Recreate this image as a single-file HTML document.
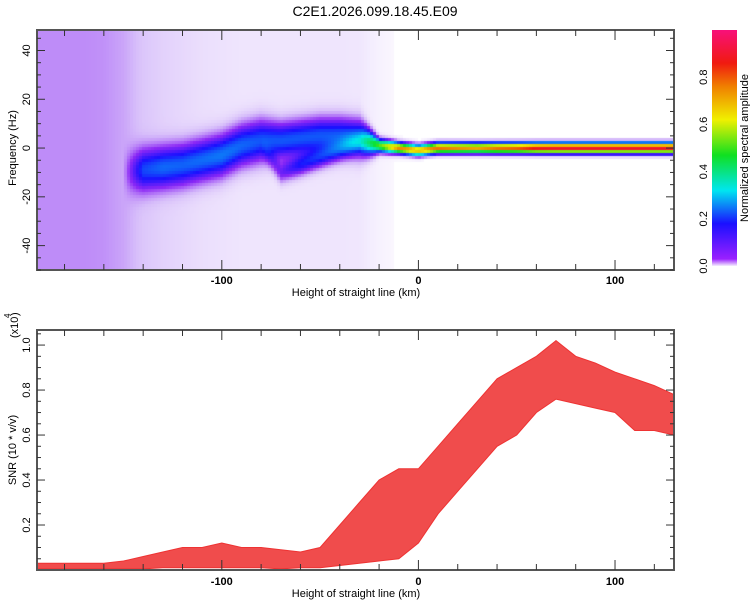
<!DOCTYPE html>
<html><head><meta charset="utf-8"><style>
body{margin:0;background:#fff;width:750px;height:600px;position:relative;overflow:hidden;font-family:"Liberation Sans",sans-serif}
canvas{position:absolute}
svg{position:absolute;left:0;top:0}
</style></head><body>
<canvas id="spec" width="637" height="240" style="left:37px;top:30px"></canvas>
<svg id="svg" width="750" height="600">
<defs><linearGradient id="cb" x1="0" y1="1" x2="0" y2="0">
<stop offset="0" stop-color="#f4eefe"/><stop offset="0.03" stop-color="#9a20ff"/><stop offset="0.18" stop-color="#1a10ff"/><stop offset="0.32" stop-color="#00e6f0"/><stop offset="0.47" stop-color="#10e020"/><stop offset="0.62" stop-color="#f0f000"/><stop offset="0.76" stop-color="#f08000"/><stop offset="0.86" stop-color="#f01a10"/><stop offset="1" stop-color="#f8107a"/></linearGradient></defs>
<text x="375" y="16" font-size="14" text-anchor="middle">C2E1.2026.099.18.45.E09</text>
<rect x="712" y="30" width="25" height="236" fill="url(#cb)"/>
<text transform="translate(748,148) rotate(-90)" font-size="11" text-anchor="middle">Normalized spectral amplitude</text>
<g id="g"></g>
</svg>
<script>
// ---- data ----
const xs = [-190,-180,-170,-160,-150,-140,-130,-120,-110,-100,-90,-80,-70,-60,-50,-40,-30,-20,-10,0,10,20,30,40,50,60,70,80,90,100,110,120,130];
const ridgeFreq = [-10,-10,-10,-10,-10,-9,-8,-7,-5,-3,1,3,3,4,5,5,4,1,0,-1,0,0,0,0,0,0,0,0,0,0,0,0,0];
const ridgeAmp  = [0,0,0,0,0,0.18,0.21,0.21,0.22,0.23,0.22,0.21,0.21,0.21,0.21,0.21,0.23,0.5,0.75,0.7,0.78,0.75,0.72,0.78,0.8,0.88,0.9,0.9,0.9,0.9,0.9,0.9,0.9];
const ridgeWidth= [8,8,8,8,8,8,8,8,8,8,8,8,7,7,7,7,7,2.5,2,2,2,2,2,2,2,2,2,2,2,2,2,2,2];
const ridge2Freq= [0,0,0,0,0,0,0,0,0,0,0,0,-10,-7,-4,-1,2,0,0,0,0,0,0,0,0,0,0,0,0,0,0,0,0];
const ridge2Amp = [0,0,0,0,0,0,0,0,0,0,0,0,0.1,0.15,0.15,0.13,0.1,0,0,0,0,0,0,0,0,0,0,0,0,0,0,0,0];
const bgLevel   = [0.06,0.06,0.06,0.058,0.05,0.035,0.028,0.024,0.02,0.018,0.016,0.016,0.016,0.016,0.016,0.016,0.015,0.008,0.004,0,0,0,0,0,0,0,0,0,0,0,0,0,0];
const snrLo = [0.005,0.005,0.005,0.005,0.005,0.005,0.01,0.01,0.01,0.01,0.01,0.01,0.005,0.01,0.01,0.02,0.03,0.04,0.05,0.12,0.25,0.35,0.45,0.55,0.6,0.7,0.76,0.74,0.72,0.7,0.62,0.62,0.6];
const snrHi = [0.03,0.03,0.03,0.03,0.04,0.06,0.08,0.1,0.1,0.12,0.1,0.1,0.09,0.08,0.1,0.2,0.3,0.4,0.45,0.45,0.55,0.65,0.75,0.85,0.9,0.95,1.02,0.95,0.92,0.88,0.85,0.82,0.78];
const xTicks = [-100,0,100];
const fTicks = [-40,-20,0,20,40];
const sTicks = [0.2,0.4,0.6,0.8,1.0];
const cTicks = [0.0,0.2,0.4,0.6,0.8];
// ---- scales ----
const X0=37,X1=674,XMIN=-194,XMAX=130;
const sx=v=>X0+(v-XMIN)/(XMAX-XMIN)*(X1-X0);
const fy=v=>30+(48.4-v)/(48.4+50)*240;
const sy=v=>570-(v-0)/1.067*240;
const cy=v=>266-v/1.0*236;
function interp(arr,x){if(x<=xs[0])return arr[0];for(let i=1;i<xs.length;i++){if(x<=xs[i]){const t=(x-xs[i-1])/(xs[i]-xs[i-1]);return arr[i-1]+t*(arr[i]-arr[i-1]);}}return arr[arr.length-1];}
// ---- heatmap ----
const stops=[[0,[255,255,255]],[0.04,[215,190,250]],[0.1,[140,40,245]],[0.18,[26,16,255]],[0.32,[0,230,240]],[0.47,[16,224,32]],[0.62,[240,240,0]],[0.76,[240,128,0]],[0.86,[240,26,16]],[1,[248,16,122]]];
function cmap(v){for(let i=1;i<stops.length;i++){if(v<=stops[i][0]){const t=(v-stops[i-1][0])/(stops[i][0]-stops[i-1][0]);return stops[i-1][1].map((c,k)=>Math.round(c+t*(stops[i][1][k]-c)));}}return stops[stops.length-1][1];}
const ctx=document.getElementById('spec').getContext('2d');
for(let px=0;px<637;px+=3){const x=XMIN+(px+1.5)/637*(XMAX-XMIN);
 const rf=interp(ridgeFreq,x),ra=interp(ridgeAmp,x),rw=interp(ridgeWidth,x),r2f=interp(ridge2Freq,x),r2a=interp(ridge2Amp,x),bg=interp(bgLevel,x);
 for(let py=0;py<240;py+=3){const f=48.4-(py+1.5)/240*98.4;
  let v=bg+ra*Math.exp(-Math.pow((f-rf)/rw,2))+r2a*Math.exp(-Math.pow((f-r2f)/4,2));
  if(v<0.005)continue;v=Math.min(v,1);
  const c=cmap(v);
  ctx.fillStyle=`rgb(${c[0]},${c[1]},${c[2]})`;ctx.fillRect(px,py,3,3);}}
// ---- svg ----
const NS='http://www.w3.org/2000/svg',g=document.getElementById('g');
function el(t,a,p){const e=document.createElementNS(NS,t);for(const k in a)e.setAttribute(k,a[k]);(p||g).appendChild(e);return e;}
// SNR band
let hiPath='',loPath='';
xs.forEach((x,i)=>{hiPath+='L'+sx(x).toFixed(1)+','+sy(snrHi[i]).toFixed(1);});
for(let i=xs.length-1;i>=0;i--){loPath+='L'+sx(xs[i]).toFixed(1)+','+sy(snrLo[i]).toFixed(1);}
const band=el('path',{d:'M'+X0+','+sy(snrHi[0]).toFixed(1)+hiPath+loPath+'L'+X0+','+sy(snrLo[0]).toFixed(1)+'Z',fill:'#ee3333','fill-opacity':0.88,stroke:'#ee3333','stroke-width':1});


function frame(y0,y1,name){const r=el('rect',{x:X0,y:y0,width:X1-X0,height:y1-y0,fill:'none',stroke:'#555','stroke-width':2});
 
 
 for(let v=-180;v<=120;v+=20){const x=sx(v),L=v%100===0?10:6;el('line',{x1:x,x2:x,y1:y0,y2:y0+L,stroke:'#333'});el('line',{x1:x,x2:x,y1:y1,y2:y1-L,stroke:'#333'});}}
frame(30,270,'spectrogram-frame');frame(330,570,'snr-frame');
xTicks.forEach(v=>{[284,585].forEach(y=>{const t=el('text',{x:sx(v),y:y,'font-size':11,'font-weight':'bold','text-anchor':'middle'});t.textContent=v;
 
 });});
for(let v=-50;v<=48;v+=5){const y=fy(v),L=v%20===0?8:4;el('line',{x1:X0,x2:X0+L,y1:y,y2:y,stroke:'#333'});el('line',{x1:X1,x2:X1-L,y1:y,y2:y,stroke:'#333'});}
fTicks.forEach(v=>{const t=el('text',{transform:`translate(30,${fy(v)}) rotate(-90)`,'font-size':11,'text-anchor':'middle'});t.textContent=v;
 
 });
for(let v=0.05;v<=1.06;v+=0.05){const y=sy(v),L=Math.round(v*100)%20===0?8:4;el('line',{x1:X0,x2:X0+L,y1:y,y2:y,stroke:'#333'});el('line',{x1:X1,x2:X1-L,y1:y,y2:y,stroke:'#333'});}
sTicks.forEach(v=>{const t=el('text',{transform:`translate(30,${sy(v)}) rotate(-90)`,'font-size':11,'text-anchor':'middle'});t.textContent=v.toFixed(1);
 
 });
cTicks.forEach(v=>{const t=el('text',{transform:`translate(707,${cy(v)}) rotate(-90)`,'font-size':11,'text-anchor':'middle'});t.textContent=v.toFixed(1);
 
 });
function lab(txt,a,name){const t=el('text',Object.assign({'font-size':11},a));t.textContent=txt;
 
 }
lab('Height of straight line (km)',{x:356,y:296,'text-anchor':'middle'},'x-axis-title-top');
lab('Height of straight line (km)',{x:356,y:597,'text-anchor':'middle'},'x-axis-title-bottom');
lab('Frequency (Hz)',{transform:'translate(16,148) rotate(-90)','text-anchor':'middle'},'y-axis-title-top');
lab('SNR (10 * v/v)',{transform:'translate(16,450) rotate(-90)','text-anchor':'middle'},'y-axis-title-bottom');
lab('(x10',{transform:'translate(18,338) rotate(-90)','text-anchor':'start'},'y-axis-exponent');
lab('4',{transform:'translate(10,318) rotate(-90)','font-size':8},'y-axis-exponent-power');
lab(')',{transform:'translate(18,316) rotate(-90)'},'y-axis-exponent-close');
</script>
</body></html>
